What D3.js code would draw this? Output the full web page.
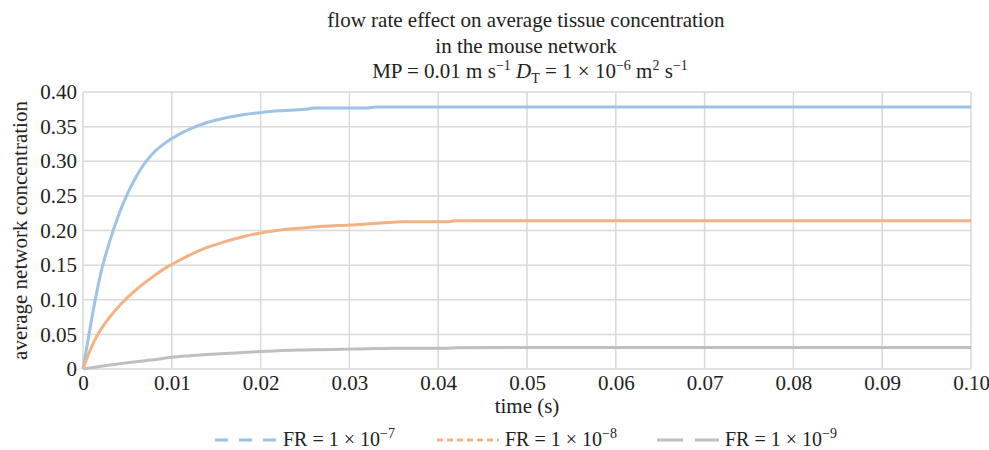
<!DOCTYPE html>
<html>
<head>
<meta charset="utf-8">
<script src="https://cdn.jsdelivr.net/npm/d3@7"></script>
<style>
  body { margin: 0; background: #fff; }
  text { font-family: "Liberation Serif", "Times New Roman", serif; fill: #222; }
</style>
</head>
<body>
<div id="chart"></div>
<script>
// time points (s) shared by all three series
const times = [0, 0.001, 0.0015, 0.002, 0.003, 0.004, 0.005, 0.006, 0.007, 0.008, 0.009, 0.010,
  0.012, 0.014, 0.016, 0.018, 0.020, 0.022, 0.025, 0.026, 0.030, 0.032, 0.033, 0.035, 0.036,
  0.041, 0.042, 0.05, 0.06, 0.07, 0.08, 0.09, 0.10];

const fr7 = [0, 0.074, 0.108, 0.138, 0.184, 0.222, 0.253, 0.278, 0.298, 0.313, 0.324, 0.333,
  0.3465, 0.356, 0.3625, 0.367, 0.3705, 0.373, 0.375, 0.377, 0.377, 0.377, 0.3785, 0.3785, 0.3785,
  0.3785, 0.3785, 0.3785, 0.3785, 0.3785, 0.3785, 0.3785, 0.3785];

const fr8 = [0, 0.033, 0.046, 0.057, 0.075, 0.090, 0.103, 0.1145, 0.125, 0.1345, 0.1435, 0.151,
  0.1645, 0.1755, 0.184, 0.191, 0.1965, 0.2005, 0.204, 0.205, 0.208, 0.2095, 0.2105, 0.212, 0.2125,
  0.2125, 0.214, 0.214, 0.214, 0.214, 0.214, 0.214, 0.214];

const fr9 = [0, 0.002, 0.003, 0.004, 0.0057, 0.0074, 0.009, 0.0105, 0.012, 0.0135, 0.0153, 0.017,
  0.0192, 0.021, 0.0225, 0.0238, 0.0252, 0.0265, 0.0275, 0.0278, 0.0287, 0.0293, 0.0295, 0.0298, 0.030,
  0.030, 0.0307, 0.031, 0.031, 0.031, 0.031, 0.031, 0.031];

const xTicks = [0, 0.01, 0.02, 0.03, 0.04, 0.05, 0.06, 0.07, 0.08, 0.09, 0.10];
const yTicks = [0, 0.05, 0.10, 0.15, 0.20, 0.25, 0.30, 0.35, 0.40];

const seriesNames = ["7", "8", "9"];
const seriesColors = ["#9dc3e6", "#f4b183", "#bfbfbf"];
const seriesDash = ["13 11", "6 4", "26 12"];

// set the dimensions and margins of the graph
const width = 989, height = 450;
const margin = {top: 92, right: 18, bottom: 81, left: 83};
const innerW = width - margin.left - margin.right,
  innerH = height - margin.top - margin.bottom;

const svg = d3.select("#chart")
  .append("svg")
  .attr("width", width)
  .attr("height", height);

const g = svg.append("g")
  .attr("transform", `translate(${margin.left}, ${margin.top})`);

const x = d3.scaleLinear().domain([0, 0.10]).range([0, innerW]);
const y = d3.scaleLinear().domain([0, 0.40]).range([innerH, 0]);

// grid
g.append("g")
  .selectAll("line")
  .data(xTicks)
  .join("line")
  .attr("x1", d => x(d)).attr("x2", d => x(d))
  .attr("y1", 0).attr("y2", innerH)
  .attr("stroke", "#d9d9d9")
  .attr("stroke-width", 1.5);

g.append("g")
  .selectAll("line")
  .data(yTicks)
  .join("line")
  .attr("x1", 0).attr("x2", innerW)
  .attr("y1", d => y(d)).attr("y2", d => y(d))
  .attr("stroke", "#d9d9d9")
  .attr("stroke-width", 1.5);

// axes (labels only)
const fmt = d => d === 0 ? "0" : d3.format(".2f")(d);

const xAxis = g.append("g")
  .attr("transform", `translate(0, ${innerH})`)
  .call(d3.axisBottom(x).tickValues(xTicks).tickSize(0).tickPadding(6).tickFormat(fmt));
xAxis.select(".domain").remove();
xAxis.attr("font-family", null).attr("font-size", null);
xAxis.selectAll("text").style("font-size", "21px");

const yAxis = g.append("g")
  .call(d3.axisLeft(y).tickValues(yTicks).tickSize(0).tickPadding(6).tickFormat(fmt));
yAxis.select(".domain").remove();
yAxis.attr("font-family", null).attr("font-size", null);
yAxis.selectAll("text").style("font-size", "21px");

// lines
const seriesData = [fr7, fr8, fr9];
const line = d3.line()
  .x((d, i) => x(times[i]))
  .y(d => y(d))
  .curve(d3.curveMonotoneX);

g.selectAll(".series")
  .data(seriesData)
  .join("path")
  .attr("class", "series")
  .attr("fill", "none")
  .attr("stroke", (d, i) => seriesColors[i])
  .attr("stroke-width", 3)
  .attr("d", line);

// titles
const title = svg.append("text")
  .attr("text-anchor", "middle")
  .style("font-size", "21px");
title.append("tspan").attr("x", 526).attr("y", 27).text("flow rate effect on average tissue concentration");
title.append("tspan").attr("x", 526).attr("y", 53).text("in the mouse network");

const sub = svg.append("text")
  .attr("x", 530).attr("y", 78)
  .attr("text-anchor", "middle")
  .style("font-size", "21px");
sub.append("tspan").text("MP = 0.01 m s");
sub.append("tspan").attr("dy", -8).style("font-size", "14px").text("\u22121");
sub.append("tspan").attr("dy", 8).text(" ");
sub.append("tspan").style("font-style", "italic").text("D");
sub.append("tspan").attr("dy", 5).style("font-size", "14px").text("T");
sub.append("tspan").attr("dy", -5).text(" = 1 \u00d7 10");
sub.append("tspan").attr("dy", -8).style("font-size", "14px").text("\u22126");
sub.append("tspan").attr("dy", 8).text(" m");
sub.append("tspan").attr("dy", -8).style("font-size", "14px").text("2");
sub.append("tspan").attr("dy", 8).text(" s");
sub.append("tspan").attr("dy", -8).style("font-size", "14px").text("\u22121");

svg.append("text")
  .attr("x", margin.left + x(0.05))
  .attr("y", 413)
  .attr("text-anchor", "middle")
  .style("font-size", "21px")
  .text("time (s)");

svg.append("text")
  .attr("transform", `translate(27, ${margin.top + innerH / 2}) rotate(-90)`)
  .attr("text-anchor", "middle")
  .style("font-size", "21px")
  .text("average network concentration");

// legend
const legendX = [215, 437, 657];
const legend = svg.append("g")
  .selectAll("g")
  .data(seriesNames)
  .join("g")
  .attr("transform", (d, i) => `translate(${legendX[i]}, 440)`);

legend.append("line")
  .attr("x1", 0).attr("x2", 62)
  .attr("y1", 0).attr("y2", 0)
  .attr("stroke", (d, i) => seriesColors[i])
  .attr("stroke-width", 3)
  .attr("stroke-dasharray", (d, i) => seriesDash[i]);

const lt = legend.append("text")
  .attr("x", 68).attr("y", 6)
  .style("font-size", "20px");
lt.append("tspan").text("FR = 1 \u00d7 10");
lt.append("tspan").attr("dy", -8).style("font-size", "14px").text(d => "\u2212" + d);
</script>
</body>
</html>
